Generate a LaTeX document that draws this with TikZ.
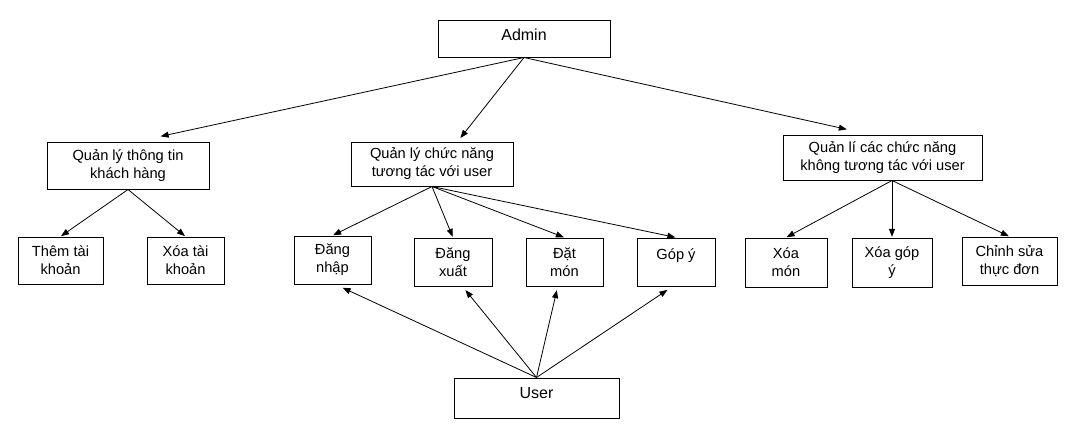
\documentclass[tikz,border=0pt]{standalone}
\usepackage{fontspec}
\setmainfont{Liberation Sans}
\usetikzlibrary{arrows.meta,calc}
\begin{document}
\begin{tikzpicture}[x=0.75pt,y=-0.75pt, >={Triangle[length=6pt,width=4.5pt]},
    box/.style={draw, line width=0.75pt, align=center, inner sep=0pt,
      font=\fontsize{11}{13.5}\selectfont},
    big/.style={font=\fontsize{12}{14}\selectfont},
    boxsize/.style 2 args={minimum width=#1*0.75pt, minimum height=#2*0.75pt},
    link/.style={->, line width=0.6pt, shorten >=0.5pt}]
  \useasboundingbox (0,0) rectangle (1089,440);
  \node[box, big, boxsize={172}{37}, text depth=5.25pt] (admin) at (524,38.5) {Admin};
  \node[box, boxsize={162}{47}] (qltt) at (128,165.5) {Quản lý thông tin\\khách hàng};
  \node[box, boxsize={162}{44}] (qlcn) at (432,164) {Quản lý chức năng\\tương tác với user};
  \node[box, boxsize={199}{45}] (qlck) at (882.5,157.5) {Quản lí các chức năng\\không tương tác với user};
  \node[box, boxsize={85}{47}] (them) at (60.5,260.5) {Thêm tài\\khoản};
  \node[box, boxsize={77}{47}] (xoatk) at (185.5,260.5) {Xóa tài\\khoản};
  \node[box, boxsize={77}{48}] (dangnhap) at (332.5,260) {Đăng\\nhập};
  \node[box, boxsize={78}{48}] (dangxuat) at (453,262) {Đăng\\xuất};
  \node[box, boxsize={77}{48}] (datmon) at (564.5,262) {Đặt\\món};
  \node[box, boxsize={78}{48}, text depth=11.3pt] (gopy) at (676,262) {Góp ý};
  \node[box, boxsize={82}{49}] (xoamon) at (786,262.5) {Xóa\\món};
  \node[box, boxsize={80}{49}] (xoagopy) at (892,262.5) {Xóa góp\\ý};
  \node[box, boxsize={95}{48}] (chinhsua) at (1009.5,261) {Chỉnh sửa\\thực đơn};
  \node[box, big, boxsize={165}{40}, text depth=7.5pt] (user) at (536.5,398) {User};
  \draw[link] (admin.south) -- ($(qltt.north)+(32,-5)$);
  \draw[link] (admin.south) -- ($(qlcn.north)+(28,-3)$);
  \draw[link] (admin.south) -- ($(qlck.north)+(-35,-5)$);
  \foreach \c in {them,xoatk} \draw[link] (qltt.south) -- (\c.north);
  \foreach \c in {dangnhap,dangxuat,datmon,gopy} \draw[link] (qlcn.south) -- (\c.north);
  \foreach \c in {xoamon,xoagopy,chinhsua} \draw[link] ($(qlck.south)+(9.5,0)$) -- (\c.north);
  \foreach \c/\d in {dangnhap/9.5,dangxuat/12,datmon/-7.5,gopy/-8}
    \draw[link] (user.north) -- ($(\c.south)+(\d,3)$);
\end{tikzpicture}
\end{document}
